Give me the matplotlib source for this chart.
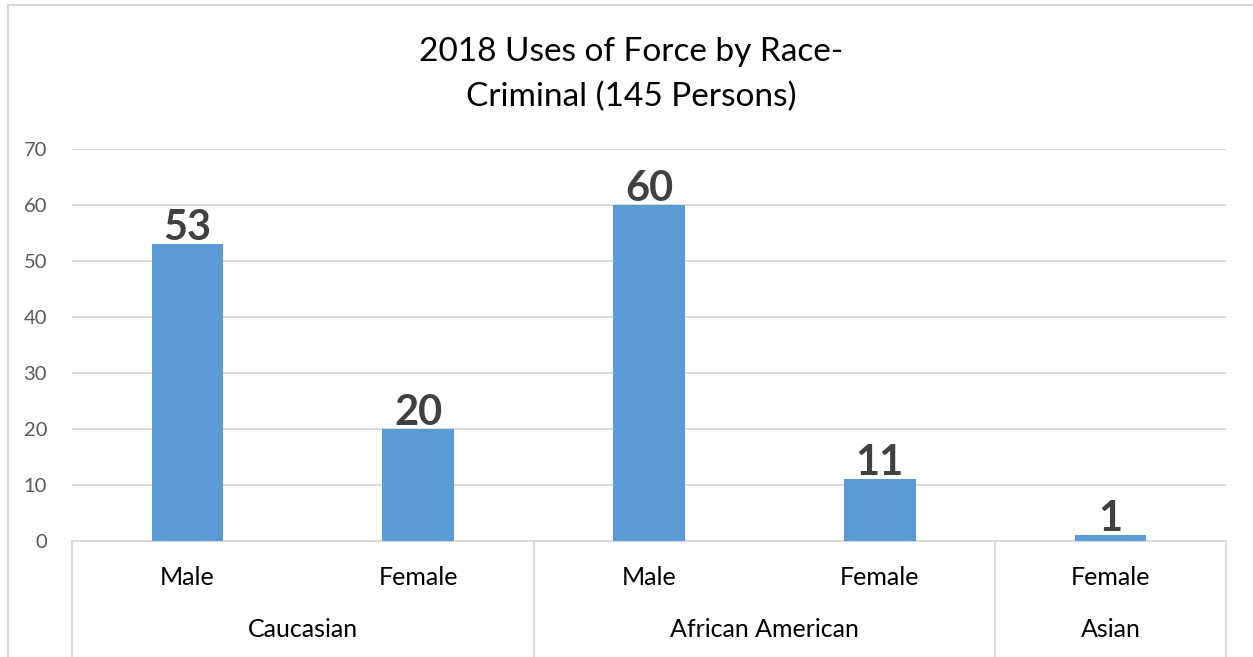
import matplotlib.pyplot as plt
from matplotlib.patches import Rectangle
import matplotlib.transforms as mtransforms

# data
sub_labels = ['Male', 'Female', 'Male', 'Female', 'Female']
values = [53, 20, 60, 11, 1]
groups = ['Caucasian', 'African American', 'Asian']
group_sizes = [2, 2, 1]

plt.rcParams['font.family'] = ['Lato', 'DejaVu Sans']

fig = plt.figure(figsize=(12.53, 6.57), dpi=100)
ax = fig.add_axes([0.0575, 0.1766, 0.9210, 0.5966])

x = list(range(len(values)))
bars = ax.bar(x, values, width=0.31, color='#5b9bd5', zorder=3)

ax.set_xlim(-0.5, len(values) - 0.5)
ax.set_ylim(0, 70)
ax.set_yticks(range(0, 71, 10))
ax.yaxis.grid(True, color='#d9d9d9', linewidth=1.3, zorder=0)
ax.tick_params(axis='y', length=0, labelsize=14.5, labelcolor='#595959', pad=18)
ax.tick_params(axis='x', length=0)
ax.set_xticks([])
for s in ['top', 'right', 'left']:
    ax.spines[s].set_visible(False)
ax.spines['bottom'].set_color('#d9d9d9')
ax.spines['bottom'].set_linewidth(1.3)

# data labels
for xi, v in zip(x, values):
    ax.annotate(str(v), (xi, v), xytext=(0, -2), textcoords='offset points',
                ha='center', va='bottom', fontsize=30, fontweight='bold',
                color='#404040')

# two-level category axis
trans = mtransforms.blended_transform_factory(ax.transData, ax.transAxes)
for xi, lab in zip(x, sub_labels):
    ax.text(xi, -0.092, lab, transform=trans, ha='center', va='center',
            fontsize=18, color='black')

start = 0
edges = [-0.5]
for g, n in zip(groups, group_sizes):
    center = start + (n - 1) / 2
    ax.text(center, -0.227, g, transform=trans, ha='center', va='center',
            fontsize=18, color='black')
    start += n
    edges.append(start - 0.5)
for e in edges:
    ax.plot([e, e], [0, -0.3], transform=trans, color='#d9d9d9',
            linewidth=1.3, clip_on=False)

fig.text(0.504, 0.887, '2018 Uses of Force by Race-\nCriminal (145 Persons)',
         ha='center', va='center', fontsize=24, color='black', linespacing=1.6)

# chart border
fig.patches.append(Rectangle((8 / 1253, -0.1), 1.2, 1.0924, transform=fig.transFigure,
                             fill=False, edgecolor='#d9d9d9', linewidth=1.5))

fig.savefig('out.png', dpi=100)
